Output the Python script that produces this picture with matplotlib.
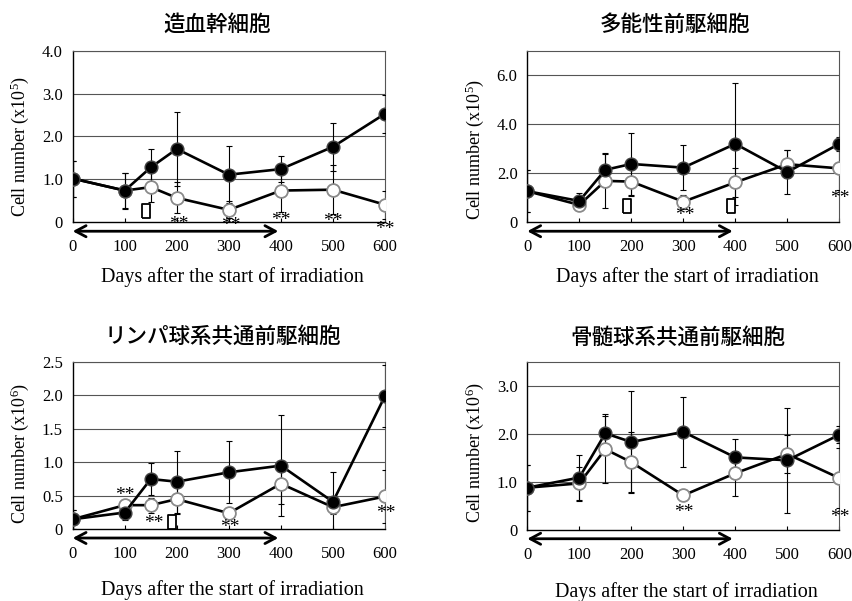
import matplotlib
matplotlib.use("Agg")
import matplotlib.pyplot as plt

plt.rcParams['font.family'] = ['Liberation Serif', 'DejaVu Serif']
plt.rcParams['mathtext.fontset'] = 'custom'
plt.rcParams['mathtext.rm'] = 'Liberation Serif'
plt.rcParams['mathtext.it'] = 'Liberation Serif:italic'

days = [0, 100, 150, 200, 300, 400, 500, 600]
xticks = [0, 100, 200, 300, 400, 500, 600]

titles = ['造血幹細胞', '多能性前駆細胞', 'リンパ球系共通前駆細胞', '骨髄球系共通前駆細胞']
ylabels = ['Cell number (x10$^{5}$)', 'Cell number (x10$^{5}$)',
           'Cell number (x10$^{6}$)', 'Cell number (x10$^{6}$)']
xlabel = 'Days after the start of irradiation'

# filled circles (control) and open circles (irradiated)
hsc_filled = [1.02, 0.74, 1.28, 1.71, 1.11, 1.24, 1.76, 2.53]
hsc_filled_err = [0.42, 0.42, 0.42, 0.87, 0.67, 0.31, 0.56, 0.44]
hsc_open = [1.02, 0.74, 0.82, 0.57, 0.29, 0.74, 0.76, 0.41]
hsc_open_err = [0.42, 0.40, 0.35, 0.36, 0.20, 0.51, 0.57, 0.33]

mpp_filled = [1.27, 0.87, 2.14, 2.38, 2.23, 3.20, 2.05, 3.20]
mpp_filled_err = [0.85, 0.34, 0.68, 1.25, 0.93, 2.50, 0.89, 0.30]
mpp_open = [1.27, 0.71, 1.69, 1.66, 0.84, 1.63, 2.37, 2.20]
mpp_open_err = [0.85, 0.20, 1.10, 0.60, 0.28, 0.60, 0.58, 0.88]

clp_filled = [0.15, 0.25, 0.75, 0.71, 0.85, 0.95, 0.41, 1.99]
clp_filled_err = [0.14, 0.11, 0.24, 0.46, 0.46, 0.75, 0.45, 0.46]
clp_open = [0.15, 0.36, 0.36, 0.45, 0.24, 0.68, 0.33, 0.49]
clp_open_err = [0.14, 0.05, 0.11, 0.22, 0.05, 0.30, 0.10, 0.40]

cmp_filled = [0.88, 1.09, 2.01, 1.83, 2.04, 1.51, 1.45, 1.98]
cmp_filled_err = [0.48, 0.48, 0.40, 1.07, 0.72, 0.39, 1.09, 0.18]
cmp_open = [0.88, 0.97, 1.68, 1.41, 0.72, 1.18, 1.58, 1.08]
cmp_open_err = [0.48, 0.35, 0.70, 0.63, 0.10, 0.47, 0.40, 0.63]

yticks = [[0, 1, 2, 3, 4], [0, 2, 4, 6], [0, 0.5, 1.0, 1.5, 2.0, 2.5], [0, 1, 2, 3]]
ytick_labels = [['0', '1.0', '2.0', '3.0', '4.0'], ['0', '2.0', '4.0', '6.0'],
                ['0', '0.5', '1.0', '1.5', '2.0', '2.5'], ['0', '1.0', '2.0', '3.0']]
ylims = [4.0, 7.0, 2.5, 3.5]

# significance marks (x, y) and unrendered symbol boxes
stars = [[(203, -0.06), (303, -0.08), (400, 0.05), (500, 0.02), (600, -0.16)],
         [(302, 0.28), (600, 0.97)],
         [(101, 0.51), (155, 0.09), (302, 0.03), (601, 0.24)],
         [(301, 0.37), (600, 0.25)]]
box_x = [[140], [191, 392], [190], []]
box_y = [[0.27], [0.67, 0.67], [0.11], []]

W, H = 853, 601
fig = plt.figure(figsize=(W / 100, H / 100), dpi=100)

# axes boxes in pixels: left, top, right, bottom
boxes_px = [(72.7, 50.7, 385, 222.3), (527.3, 50.7, 839.3, 222.3),
            (72.7, 361.7, 385, 529.3), (527.3, 361.7, 839.3, 530)]
title_px = [(217.5, 25), (675, 25), (223, 337), (678, 338)]
ylabel_px = [(20, 146), (475, 149), (20, 453), (475, 452.5)]
xlabel_px = [(232.5, 277), (687.5, 277), (232.5, 590), (686.7, 591.7)]

data = [(hsc_filled, hsc_filled_err, hsc_open, hsc_open_err),
        (mpp_filled, mpp_filled_err, mpp_open, mpp_open_err),
        (clp_filled, clp_filled_err, clp_open, clp_open_err),
        (cmp_filled, cmp_filled_err, cmp_open, cmp_open_err)]

# tall narrow rectangle marker for the unrendered symbol
tall_box = [(-0.28, -0.5), (0.28, -0.5), (0.28, 0.5), (-0.28, 0.5), (-0.28, -0.5)]

for i in range(4):
    l, t, r, b = boxes_px[i]
    ax = fig.add_axes([l / W, 1 - b / H, (r - l) / W, (b - t) / H])
    filled, ferr, opn, oerr = data[i]

    ax.errorbar(days, opn, yerr=oerr, fmt='none', ecolor='black', elinewidth=0.8,
                capsize=2.5, capthick=0.8, zorder=3)
    ax.errorbar(days, filled, yerr=ferr, fmt='none', ecolor='black', elinewidth=0.8,
                capsize=2.5, capthick=0.8, zorder=3)
    ax.plot(days, opn, '-o', color='black', lw=1.9, markersize=9.2,
            markerfacecolor='white', markeredgecolor='#8a8a8a', markeredgewidth=1.3, zorder=4)
    ax.plot(days, filled, '-o', color='black', lw=1.9, markersize=9.2,
            markerfacecolor='black', markeredgecolor='#444444', markeredgewidth=1.0, zorder=5)

    ax.set_xlim(0, 600)
    ax.set_ylim(0, ylims[i])
    ax.set_xticks(xticks)
    ax.set_xticklabels([str(x) for x in xticks], fontsize=12)
    ax.set_yticks(yticks[i])
    ax.set_yticklabels(ytick_labels[i], fontsize=12)
    ax.tick_params(axis='x', direction='in', length=3, width=0.8, pad=12)
    ax.tick_params(axis='y', length=0, pad=7)
    for y in yticks[i][1:]:
        ax.axhline(y, color='#555555', lw=0.8, zorder=1)
    for s in ['left', 'bottom']:
        ax.spines[s].set_color('black')
        ax.spines[s].set_linewidth(1.0)
    for s in ['top', 'right']:
        ax.spines[s].set_color('#555555')
        ax.spines[s].set_linewidth(0.8)

    # irradiation period arrow (0-400 days)
    ax.annotate('', xy=(0, -0.052), xytext=(395, -0.052),
                xycoords=ax.get_xaxis_transform(), textcoords=ax.get_xaxis_transform(),
                arrowprops=dict(arrowstyle='<->,head_length=0.75,head_width=0.4',
                                color='black', lw=2.0, shrinkA=0, shrinkB=0),
                annotation_clip=False)

    for sx, sy in stars[i]:
        ax.text(sx, sy, '**', ha='center', va='center', fontsize=14, clip_on=False, zorder=6)
    if box_x[i]:
        ax.plot(box_x[i], box_y[i], linestyle='none', marker=tall_box, markersize=9.5,
                markerfacecolor='white', markeredgecolor='black', markeredgewidth=1.3,
                clip_on=False, zorder=6)

    tx, ty = title_px[i]
    fig.text(tx / W, 1 - ty / H, titles[i], ha='center', va='center', fontsize=15.5,
             family=['Noto Sans CJK JP', 'DejaVu Sans'], weight='medium')
    yx, yy = ylabel_px[i]
    fig.text(yx / W, 1 - yy / H, ylabels[i], ha='center', va='center', rotation=90,
             fontsize=13)
    xx, xy = xlabel_px[i]
    fig.text(xx / W, 1 - xy / H, xlabel, ha='center', va='center', fontsize=14.5)

fig.savefig('out.png', dpi=100)
